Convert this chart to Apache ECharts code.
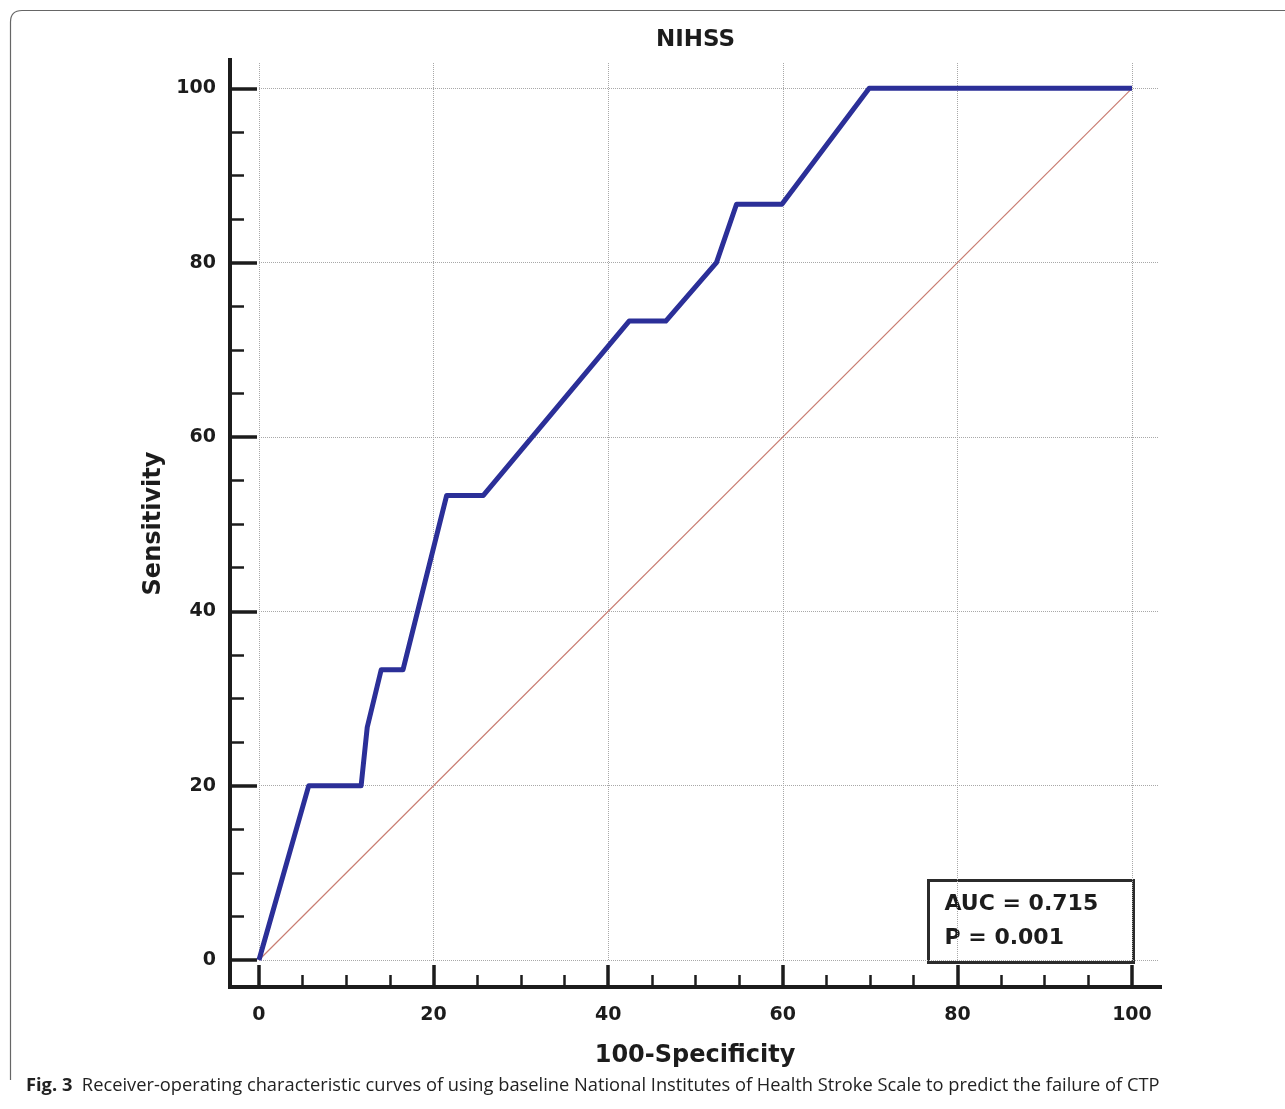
<!DOCTYPE html>
<html lang="en">
<head>
    <meta charset="UTF-8">
    <title>NIHSS ROC</title>
    <script src="https://cdn.jsdelivr.net/npm/echarts@6/dist/echarts.min.js"></script>
    <style>
        html, body { margin: 0; padding: 0; background: #fff; }
    </style>
</head>
<body>
<div id="main" style="width: 1285px;height:1109px;"></div>
<script type="text/javascript">
    // ROC curve points (100-specificity, sensitivity)
    var fpr = [0, 5.7, 11.7, 12.4, 14.0, 16.5, 21.5, 25.7, 42.4, 46.6, 52.4, 54.7, 59.9, 69.9, 100];
    var tpr = [0, 20, 20, 26.7, 33.3, 33.3, 53.3, 53.3, 73.3, 73.3, 80, 86.7, 86.7, 100, 100];
    // chance line
    var refX = [0, 100];
    var refY = [0, 100];
    // ticks
    var majorTicks = [0, 20, 40, 60, 80, 100];
    var minorTicks = [5, 10, 15, 25, 30, 35, 45, 50, 55, 65, 70, 75, 85, 90, 95];
    var aucText = ['AUC = 0.715', 'P = 0.001'];

    // axis frame runs a little past 0..100 on both ends
    var xRange = [-3.32, 103.21];
    var yRange = [-3.1, 103.25];

    var rocData = fpr.map(function (x, i) { return [x, tpr[i]]; });
    var refData = refX.map(function (x, i) { return [x, refY[i]]; });

    var bold = 'DejaVu Sans';
    var ink = '#1c1c1c';
    var frame = { left: 230, right: 125, top: 60, bottom: 122 };

    function hidden(extra) {
        var a = {
            type: 'value',
            axisLine: { show: false, onZero: false }, axisTick: { show: false },
            axisLabel: { show: false }, splitLine: { show: false }
        };
        for (var k in extra) a[k] = extra[k];
        return a;
    }

    var myChart = echarts.init(document.getElementById('main'));

    var option = {
        animation: false,
        title: {
            text: 'NIHSS',
            left: 651,
            top: 24,
            textStyle: { fontFamily: bold, fontWeight: 'bold', fontSize: 23, color: ink }
        },
        grid: [
            frame,
            // minor ticks, same box
            { left: 230, right: 125, top: 60, bottom: 122 },
            // dotted gridlines from 0 out to the frame edge
            { left: 259, right: 127, top: 63, bottom: 149 }
        ],
        xAxis: [{
            gridIndex: 0, type: 'value', min: xRange[0], max: xRange[1],
            axisLine: { show: true, onZero: false, lineStyle: { width: 4, color: ink, cap: 'square' } },
            axisTick: { show: true, inside: true, length: 22, customValues: majorTicks, lineStyle: { width: 3.5, color: ink } },
            axisLabel: { margin: 19, customValues: majorTicks, fontFamily: bold, fontWeight: 'bold', fontSize: 19, color: ink },
            splitLine: { show: false },
            name: '100-Specificity', nameLocation: 'middle', nameGap: 57,
            nameTextStyle: { fontFamily: bold, fontWeight: 'bold', fontSize: 24, color: ink }
        }, hidden({
            gridIndex: 1, min: xRange[0], max: xRange[1],
            axisTick: { show: true, inside: true, length: 12, customValues: minorTicks, lineStyle: { width: 2.5, color: ink } }
        }), hidden({
            gridIndex: 2, min: 0, max: 102.98, interval: 20,
            splitLine: { show: true, showMaxLine: false, lineStyle: { type: 'dotted', color: '#a8a8a8', width: 1 } }
        })],
        yAxis: [{
            gridIndex: 0, type: 'value', min: yRange[0], max: yRange[1],
            axisLine: { show: true, onZero: false, lineStyle: { width: 4, color: ink, cap: 'square' } },
            axisTick: { show: true, inside: true, length: 27, customValues: majorTicks, lineStyle: { width: 3.5, color: ink } },
            axisLabel: { margin: 14, customValues: majorTicks, fontFamily: bold, fontWeight: 'bold', fontSize: 19, color: ink },
            splitLine: { show: false },
            name: 'Sensitivity', nameLocation: 'middle', nameGap: 62,
            nameTextStyle: { fontFamily: bold, fontWeight: 'bold', fontSize: 24, color: ink }
        }, hidden({
            gridIndex: 1, min: yRange[0], max: yRange[1],
            axisTick: { show: true, inside: true, length: 14, customValues: minorTicks, lineStyle: { width: 2.5, color: ink } }
        }), hidden({
            gridIndex: 2, min: 0, max: 102.9, interval: 20,
            splitLine: { show: true, showMaxLine: false, lineStyle: { type: 'dotted', color: '#a8a8a8', width: 1 } }
        })],
        series: [{
            name: 'reference',
            type: 'line',
            xAxisIndex: 0, yAxisIndex: 0,
            data: refData,
            showSymbol: false,
            lineStyle: { width: 1.2, color: '#c97d72' },
            z: 3
        }, {
            name: 'NIHSS',
            type: 'line',
            xAxisIndex: 0, yAxisIndex: 0,
            data: rocData,
            showSymbol: false,
            lineStyle: { width: 5, color: '#2b2f98', join: 'round' },
            z: 4
        }],
        graphic: [{
            // figure frame: left edge, rounded corner, top edge
            type: 'polyline',
            shape: { points: [[10.5, 1080], [10.5, 22]] },
            style: { fill: null, stroke: '#666', lineWidth: 1.2 },
            z: 1
        }, {
            type: 'bezierCurve',
            shape: { x1: 10.5, y1: 22, cpx1: 10.5, cpy1: 10.5, x2: 22, y2: 10.5 },
            style: { fill: null, stroke: '#666', lineWidth: 1.2 },
            z: 1
        }, {
            type: 'polyline',
            shape: { points: [[22, 10.5], [1290, 10.5]] },
            style: { fill: null, stroke: '#666', lineWidth: 1.2 },
            z: 1
        }, {
            type: 'group',
            left: 927, top: 879, z: 20,
            children: [{
                type: 'rect',
                shape: { x: 0, y: 0, width: 205, height: 82 },
                style: { fill: '#fff', stroke: '#2b2b2b', lineWidth: 3 }
            }, {
                type: 'text',
                x: 16, y: 24,
                style: { text: aucText[0], fontFamily: bold, fontWeight: 'bold', fontSize: 22, fill: ink, verticalAlign: 'middle' }
            }, {
                type: 'text',
                x: 16, y: 58,
                style: { text: aucText[1], fontFamily: bold, fontWeight: 'bold', fontSize: 22, fill: ink, verticalAlign: 'middle' }
            }]
        }, {
            type: 'text',
            left: 26, top: 1077,
            style: {
                text: '{b|Fig. 3}  Receiver-operating characteristic curves of using baseline National Institutes of Health Stroke Scale to predict the failure of CTP',
                fontFamily: 'Open Sans', fontSize: 18.3, fill: '#222',
                rich: {
                    b: { fontFamily: 'Open Sans', fontWeight: 'bold', fontSize: 18.3, fill: '#222' }
                }
            }
        }]
    };

    myChart.setOption(option);
</script>
</body>
</html>
